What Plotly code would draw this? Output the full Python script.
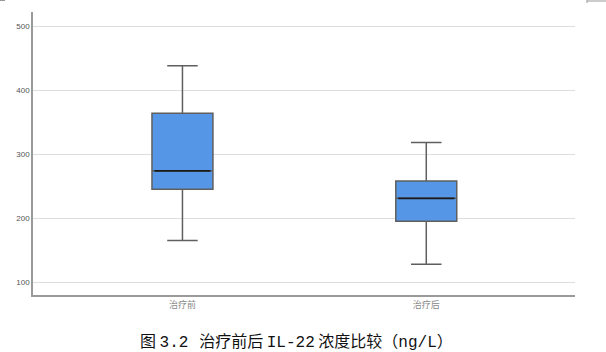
import plotly.graph_objects as go

categories = ["治疗前", "治疗后"]
lower_whisker = [165, 128]
q1_vals = [245, 195]
medians = [274, 231]
q3_vals = [364, 258]
upper_whisker = [438, 318]
y_ticks = [100, 200, 300, 400, 500]
mono = "font-family:'Liberation Mono'"
caption = (f"图 <span style=\"{mono}\">3.2</span>   治疗前后 "
           f"<span style=\"{mono}\">IL-22</span> 浓度比较（<span style=\"{mono}\">ng/L</span>）")

positions = list(range(len(categories)))
box_w = 0.25

fig = go.Figure()
fig.add_trace(go.Box(
    x=positions, q1=q1_vals, median=medians, q3=q3_vals,
    lowerfence=lower_whisker, upperfence=upper_whisker,
    width=box_w, whiskerwidth=0.5,
    fillcolor="#5596E6", line=dict(color="#5f5f5f", width=1.5),
    boxpoints=False, showlegend=False, hoverinfo="skip",
))
for p, m in zip(positions, medians):
    fig.add_trace(go.Scatter(
        x=[p - box_w / 2 + 0.01, p + box_w / 2 - 0.01], y=[m, m], mode="lines",
        line=dict(color="#1a1a1a", width=1.8), showlegend=False, hoverinfo="skip",
    ))

fig.update_layout(
    width=606, height=352,
    margin=dict(l=33, r=31, t=12, b=57),
    paper_bgcolor="white", plot_bgcolor="white",
    font=dict(family="Noto Sans CJK SC, DejaVu Sans", color="#555"),
    xaxis=dict(
        range=[-0.613, 1.61], tickvals=positions, ticktext=categories,
        showgrid=False, zeroline=False, showline=True, linecolor="#9a9a9a", linewidth=1.5,
        ticks="", tickfont=dict(size=9, color="#888"),
    ),
    yaxis=dict(
        range=[80, 522], tickvals=y_ticks, showgrid=True, gridcolor="#dedede", gridwidth=1,
        zeroline=False, showline=True, linecolor="#9a9a9a", linewidth=1.5,
        ticks="", tickfont=dict(size=8, color="#555", family="Liberation Sans, Arial"),
    ),
    annotations=[dict(
        text=caption, xref="paper", yref="paper", x=(138 - 33) / 542, y=-(340 - 295) / 283,
        xanchor="left", yanchor="middle", showarrow=False,
        font=dict(size=16, color="#111", family="Noto Sans CJK SC"),
    )],
    shapes=[
        dict(type="line", xref="paper", yref="paper", x0=-33/542, x1=-28/542, y0=(295-0.5)/283, y1=(295-0.5)/283,
             line=dict(color="#999", width=1)),
        dict(type="line", xref="paper", yref="paper", x0=(587-33)/542, x1=(606-33)/542,
             y0=(295-1)/283, y1=(295-1)/283, line=dict(color="#999", width=1)),
        dict(type="line", xref="paper", yref="paper", x0=(587-33)/542, x1=(587-33)/542,
             y0=(295-0)/283, y1=(295-3)/283, line=dict(color="#999", width=1)),
    ],
)

fig.write_html("out.html")
